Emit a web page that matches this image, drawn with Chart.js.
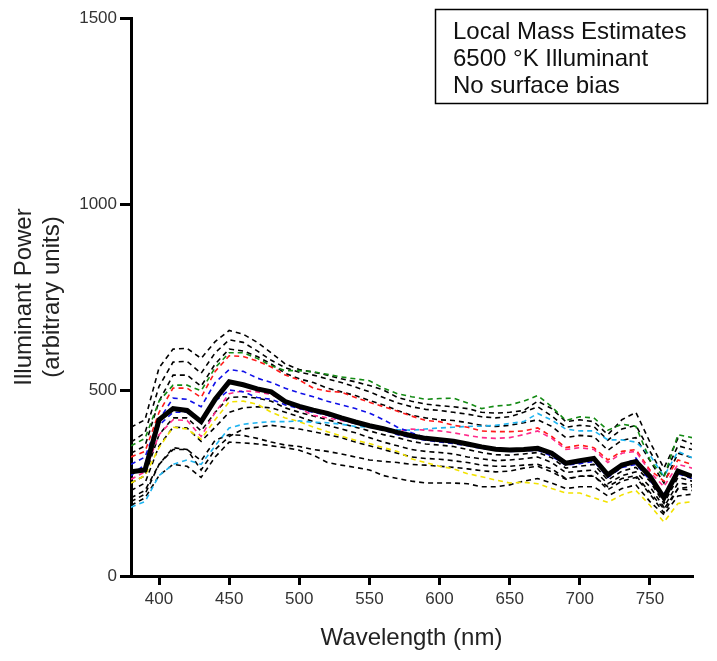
<!DOCTYPE html>
<html>
<head>
<meta charset="utf-8">
<script src="https://cdn.jsdelivr.net/npm/chart.js@4.4.1/dist/chart.umd.min.js"></script>
<style>
  html, body { margin: 0; padding: 0; background: #fff; }
  #wrap { width: 717px; height: 661px; }
</style>
</head>
<body>
<div id="wrap"><canvas id="canvas-spec" width="717" height="661"></canvas></div>
<script>
// wavelengths in nm, one sample every 10 nm
var wavelengths = [380, 390, 400, 410, 420, 430, 440, 450, 460, 470, 480, 490, 500, 510, 520, 530, 540, 550, 560, 570, 580,
  590, 600, 610, 620, 630, 640, 650, 660, 670, 680, 690, 700, 710, 720, 730, 740, 750, 760, 770, 780]
var xTicks = [400, 450, 500, 550, 600, 650, 700, 750]
var yTicks = [0, 500, 1000, 1500]

// thick solid line (mean estimate)
var meanEstimate = [280, 285, 420, 450, 445, 415, 475, 522, 514, 503, 495, 469, 456, 446, 437, 425, 414, 404, 396, 386, 377,
  370, 366, 362, 355, 347, 341, 339, 340, 343, 330, 303, 310, 316, 272, 298, 308, 268, 210, 282, 268]

// coloured dashed estimates
var greenEst = [350, 370, 470, 513, 513, 498, 560, 600, 600, 585, 565, 552, 552, 549, 542, 535, 530, 525, 505, 490, 482,
  475, 477, 478, 465, 450, 457, 460, 470, 485, 455, 418, 428, 425, 392, 408, 402, 312, 265, 380, 372]
var redEst = [320, 335, 440, 505, 505, 480, 550, 592, 590, 578, 562, 540, 527, 505, 497, 494, 480, 467, 455, 443, 430,
  418, 415, 405, 400, 390, 388, 388, 390, 398, 375, 345, 352, 345, 312, 335, 340, 285, 255, 312, 300]
var blueEstA = [300, 320, 420, 478, 475, 455, 520, 555, 550, 532, 520, 505, 492, 482, 470, 460, 450, 438, 420, 400, 385,
  372, 365, 360, 352, 345, 340, 337, 338, 340, 326, 300, 305, 312, 270, 296, 317, 262, 220, 278, 265]
var blueEstB = [270, 300, 405, 440, 440, 415, 470, 500, 495, 480, 475, 460, 450, 440, 432, 420, 410, 400, 392, 380, 372,
  365, 360, 356, 350, 343, 338, 335, 336, 338, 322, 298, 302, 308, 265, 292, 300, 258, 205, 275, 262]
var cyanEst = [185, 200, 270, 300, 312, 300, 350, 398, 408, 412, 415, 415, 417, 413, 412, 408, 402, 400, 397, 393, 392,
  395, 398, 400, 402, 403, 405, 410, 415, 437, 419, 395, 390, 390, 366, 366, 360, 325, 268, 335, 318]
var pinkEst = [260, 280, 380, 420, 418, 375, 440, 490, 498, 495, 488, 470, 450, 432, 425, 418, 410, 402, 395, 390, 395,
  392, 390, 385, 378, 372, 370, 372, 380, 390, 370, 340, 345, 340, 305, 330, 335, 280, 240, 300, 290]
var yellowEst = [250, 270, 345, 400, 395, 368, 420, 468, 470, 462, 440, 425, 415, 400, 388, 376, 365, 356, 345, 335, 315,
  305, 295, 288, 275, 267, 258, 250, 252, 248, 235, 223, 223, 210, 198, 218, 230, 190, 145, 195, 200]

// black dashed estimates
var blackA = [400, 420, 560, 610, 612, 585, 630, 660, 650, 628, 600, 570, 555, 548, 540, 530, 522, 512, 500, 480, 470,
  462, 458, 455, 450, 440, 438, 440, 445, 470, 450, 415, 420, 415, 380, 420, 440, 360, 290, 370, 355]
var blackB = [360, 385, 510, 575, 577, 545, 600, 635, 628, 605, 580, 560, 548, 540, 530, 520, 508, 495, 480, 465, 455,
  448, 445, 440, 435, 428, 425, 428, 440, 455, 430, 400, 405, 402, 365, 395, 405, 335, 270, 350, 340]
var blackC = [330, 350, 470, 540, 540, 510, 570, 610, 605, 590, 570, 545, 530, 520, 505, 495, 485, 472, 460, 445, 432,
  425, 420, 418, 412, 405, 402, 405, 412, 420, 402, 372, 378, 375, 338, 365, 372, 310, 250, 330, 318]
var blackD = [250, 270, 380, 425, 425, 390, 440, 480, 482, 478, 470, 452, 440, 430, 420, 410, 400, 390, 380, 372, 362,
  355, 352, 348, 340, 332, 326, 325, 328, 332, 318, 290, 295, 300, 258, 282, 292, 255, 195, 265, 255]
var blackE = [230, 250, 350, 400, 398, 362, 400, 440, 452, 455, 452, 440, 428, 415, 405, 395, 385, 372, 360, 350, 340,
  335, 332, 328, 320, 315, 310, 312, 315, 320, 305, 278, 282, 285, 248, 270, 280, 240, 185, 250, 245]
var blackF = [200, 220, 300, 345, 340, 285, 340, 375, 395, 400, 405, 400, 395, 388, 380, 372, 360, 350, 340, 330, 320,
  316, 314, 310, 305, 298, 295, 295, 298, 300, 288, 262, 268, 270, 232, 255, 265, 220, 170, 235, 230]
var blackG = [210, 230, 300, 340, 340, 310, 365, 380, 378, 370, 360, 352, 348, 340, 335, 328, 320, 312, 308, 305, 300,
  298, 295, 292, 288, 283, 280, 282, 290, 295, 280, 260, 268, 268, 240, 262, 270, 225, 180, 235, 240]
var blackH = [190, 210, 270, 300, 295, 265, 320, 360, 358, 355, 350, 345, 338, 325, 305, 298, 292, 285, 270, 262, 255,
  250, 250, 250, 248, 240, 240, 245, 255, 262, 250, 235, 240, 240, 215, 235, 245, 200, 165, 215, 220]

function pts(arr) {
  return wavelengths.map(function (w, i) { return { x: w, y: arr[i] } })
}

function dashed(arr, color) {
  return {
    data: pts(arr),
    borderColor: color,
    borderWidth: 1.6,
    borderDash: [5, 4],
    pointRadius: 0,
    tension: 0,
    fill: false
  }
}

// text box in the top right corner
var noteBox = {
  id: 'noteBox',
  afterDraw: function (chart) {
    var ctx = chart.ctx
    ctx.save()
    ctx.strokeStyle = '#000'
    ctx.lineWidth = 1.5
    ctx.strokeRect(435.5, 9.5, 272, 94)
    ctx.fillStyle = '#111'
    ctx.font = '24px "Liberation Sans", Arial, sans-serif'
    ctx.textBaseline = 'alphabetic'
    ctx.fillText('Local Mass Estimates', 453, 39)
    ctx.fillText('6500 °K Illuminant', 453, 66)
    ctx.fillText('No surface bias', 453, 93)
    ctx.restore()
  }
}

var ctx = document.getElementById('canvas-spec').getContext('2d')

new Chart(ctx, {
  type: 'line',
  data: {
    datasets: [
      {
        data: pts(meanEstimate),
        borderColor: '#000',
        borderWidth: 5,
        pointRadius: 0,
        tension: 0,
        fill: false
      },
      dashed(blueEstB, '#1010e8'),
      dashed(blueEstA, '#1010e8'),
      dashed(pinkEst, '#ff2a8a'),
      dashed(redEst, '#ff1a1a'),
      dashed(greenEst, '#138a13'),
      dashed(cyanEst, '#1fb4f0'),
      dashed(yellowEst, '#f2e200'),
      dashed(blackA, '#000'),
      dashed(blackB, '#000'),
      dashed(blackC, '#000'),
      dashed(blackD, '#000'),
      dashed(blackE, '#000'),
      dashed(blackF, '#000'),
      dashed(blackG, '#000'),
      dashed(blackH, '#000')
    ]
  },
  options: {
    responsive: false,
    animation: false,
    layout: {
      padding: { left: 0, top: 18, right: 25, bottom: 0 }
    },
    scales: {
      x: {
        type: 'linear',
        min: 380,
        max: 780,
        afterFit: function (scale) { scale.height = 85 },
        afterBuildTicks: function (scale) {
          scale.ticks = xTicks.map(function (v) { return { value: v } })
        },
        border: { display: true, color: '#000', width: 3 },
        grid: { drawOnChartArea: false, drawTicks: true, tickLength: 9, lineWidth: 3, color: '#000' },
        ticks: {
          color: '#333',
          padding: 4,
          maxRotation: 0,
          callback: function (v) { return String(v) },
          font: { family: '"Liberation Sans", Arial, sans-serif', size: 17 }
        },
        title: {
          display: true,
          text: 'Wavelength (nm)',
          color: '#222',
          padding: { top: 0, bottom: 9 },
          font: { family: '"Liberation Sans", Arial, sans-serif', size: 24, lineHeight: 1.15 }
        }
      },
      y: {
        min: 0,
        max: 1500,
        afterFit: function (scale) { scale.width = 131 },
        afterBuildTicks: function (scale) {
          scale.ticks = yTicks.map(function (v) { return { value: v } })
        },
        border: { display: true, color: '#000', width: 3 },
        grid: { drawOnChartArea: false, drawTicks: true, tickLength: 11, lineWidth: 3, color: '#000' },
        ticks: {
          color: '#333',
          padding: 3,
          callback: function (v) { return String(v) },
          font: { family: '"Liberation Sans", Arial, sans-serif', size: 17 }
        },
        title: {
          display: true,
          text: ['Illuminant Power', '(arbitrary units)'],
          color: '#222',
          padding: { top: 11, bottom: 0 },
          font: { family: '"Liberation Sans", Arial, sans-serif', size: 24, lineHeight: 1.15 }
        }
      }
    },
    plugins: {
      legend: { display: false },
      tooltip: { enabled: false }
    }
  },
  plugins: [noteBox]
})
</script>
</body>
</html>
